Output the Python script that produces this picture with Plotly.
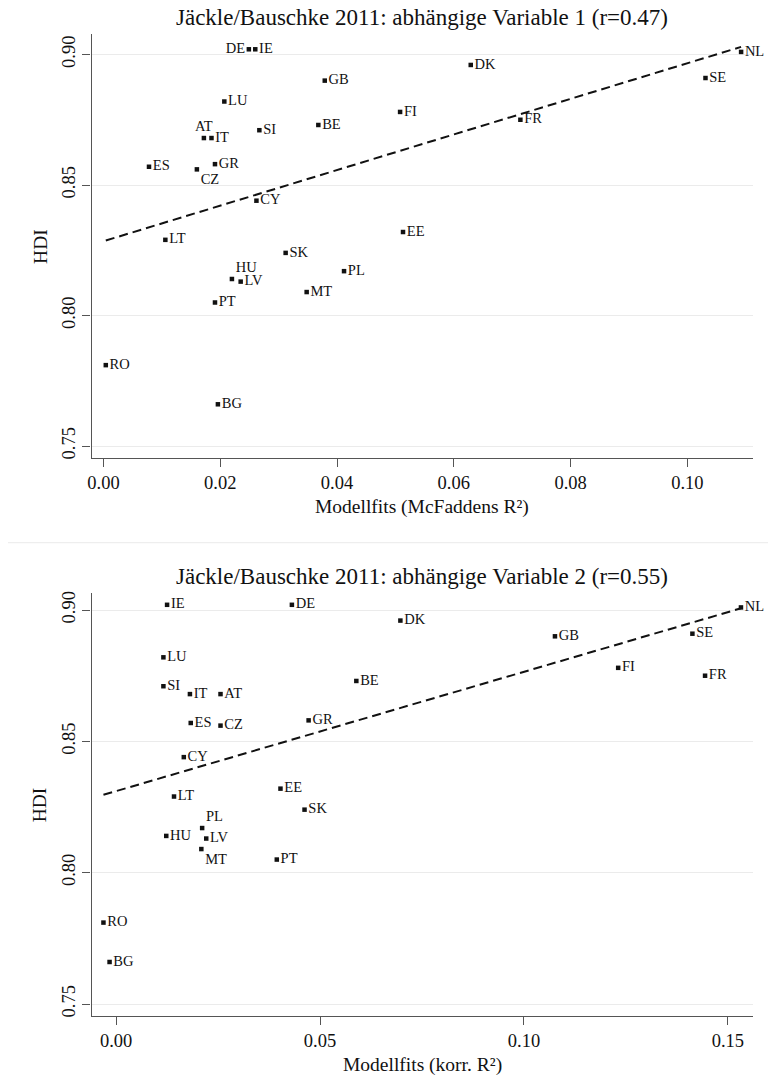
import numpy as np
import plotly.graph_objects as go

# ---- data ----
countries = ["DE", "IE", "GB", "LU", "AT", "IT", "SI", "BE", "ES", "CZ", "GR", "CY", "LT",
             "NL", "DK", "SE", "FI", "FR", "EE", "SK", "PL", "HU", "LV", "MT", "PT", "RO", "BG"]
hdi = [0.902, 0.902, 0.890, 0.882, 0.868, 0.868, 0.871, 0.873, 0.857, 0.856, 0.858, 0.844, 0.829,
       0.901, 0.896, 0.891, 0.878, 0.875, 0.832, 0.824, 0.817, 0.814, 0.813, 0.809, 0.805, 0.781, 0.766]
mcfadden_r2 = [0.0249, 0.0260, 0.0379, 0.0207, 0.0172, 0.0185, 0.0267, 0.0368, 0.0078, 0.0160, 0.0191, 0.0262, 0.0106,
               0.1092, 0.0629, 0.1031, 0.0508, 0.0714, 0.0513, 0.0312, 0.0412, 0.0220, 0.0235, 0.0348, 0.0191, 0.0004, 0.0196]
korr_r2 = [0.0431, 0.0125, 0.1076, 0.0116, 0.0256, 0.0181, 0.0116, 0.0589, 0.0183, 0.0256, 0.0472, 0.0166, 0.0142,
           0.1532, 0.0697, 0.1413, 0.1231, 0.1444, 0.0403, 0.0462, 0.0211, 0.0123, 0.0221, 0.0209, 0.0394, -0.0031, -0.0016]

pos_top = {"DE": "middle left", "AT": "top center", "CZ": "bottom right", "HU": "top right"}
pos_bot = {"PL": "top right", "MT": "bottom right"}

title_top = "Jäckle/Bauschke 2011: abhängige Variable 1 (r=0.47)"
title_bot = "Jäckle/Bauschke 2011: abhängige Variable 2 (r=0.55)"
xtitle_top = "Modellfits (McFaddens R²)"
xtitle_bot = "Modellfits (korr. R²)"
ytitle = "HDI"

W, H = 768, 1088
FONT = "Liberation Serif"
INK = "#111111"
AXC = "#555555"


def px_x(p):
    return p / W


def px_y(p):
    return 1 - p / H


fig = go.Figure()


def add_panel(xv, xa, ya, posmap):
    xv = np.array(xv)
    yv = np.array(hdi)
    b, a = np.polyfit(xv, yv, 1)
    xs = np.array([xv.min(), xv.max()])
    fig.add_trace(go.Scatter(x=xs, y=a + b * xs, mode="lines", xaxis=xa, yaxis=ya,
                             line=dict(color=INK, width=2, dash="9px,5px"),
                             showlegend=False, hoverinfo="skip"))
    fig.add_trace(go.Scatter(x=xv, y=yv, mode="markers+text", xaxis=xa, yaxis=ya,
                             text=countries, cliponaxis=False,
                             textposition=[posmap.get(c, "middle right") for c in countries],
                             textfont=dict(family=FONT, size=14.5, color=INK),
                             marker=dict(symbol="square", size=4.5, color=INK),
                             showlegend=False))


add_panel(mcfadden_r2, "x", "y", pos_top)
add_panel(korr_r2, "x2", "y2", pos_bot)

xdom = [px_x(88), px_x(752.7)]
axis_common = dict(showline=True, linecolor=AXC, linewidth=1.2, ticks="outside", ticklen=8,
                   tickcolor=AXC, tickwidth=1.2, mirror=False, zeroline=False,
                   tickfont=dict(family=FONT, size=18.5, color=INK))

fig.update_layout(
    width=W, height=H, margin=dict(l=0, r=0, t=0, b=0),
    paper_bgcolor="white", plot_bgcolor="white",
    xaxis=dict(domain=xdom, range=[-0.00204, 0.1112], tick0=0, dtick=0.02, tickformat=".2f",
               showgrid=False, anchor="y", **axis_common),
    yaxis=dict(domain=[px_y(457.3), px_y(32.3)], range=[0.74557, 0.90779], tick0=0.75, dtick=0.05,
               tickformat=".2f", tickangle=-90, showgrid=True, gridcolor="#ebebeb", gridwidth=1.2,
               anchor="x", **axis_common),
    xaxis2=dict(domain=xdom, range=[-0.00602, 0.1561], tick0=0, dtick=0.05, tickformat=".2f",
                showgrid=False, anchor="y2", **axis_common),
    yaxis2=dict(domain=[px_y(1017.7), px_y(593.3)], range=[0.74545, 0.90645], tick0=0.75, dtick=0.05,
                tickformat=".2f", tickangle=-90, showgrid=True, gridcolor="#ebebeb", gridwidth=1.2,
                anchor="x2", **axis_common),
)

cx = px_x((88 + 752.7) / 2)
ann = [
    (title_top, cx, 16, 23, 0),
    (title_bot, cx, 576.5, 23, 0),
    (xtitle_top, cx, 507, 19.5, 0),
    (xtitle_bot, cx, 1067, 19.5, 0),
    (ytitle, px_x(36), 245, 19.5, -90),
    (ytitle, px_x(36), 805.5, 19.5, -90),
]
for t, x, y, s, ang in ann:
    fig.add_annotation(text=t, x=x, y=px_y(y), xref="paper", yref="paper", showarrow=False,
                       xanchor="center", yanchor="middle", textangle=ang,
                       font=dict(family=FONT, size=s, color=INK))

fig.add_shape(type="line", xref="paper", yref="paper", x0=px_x(4), x1=1, y0=px_y(542.7), y1=px_y(542.7),
              line=dict(color="#eeeeee", width=1.2))

fig.write_html("out.html")
